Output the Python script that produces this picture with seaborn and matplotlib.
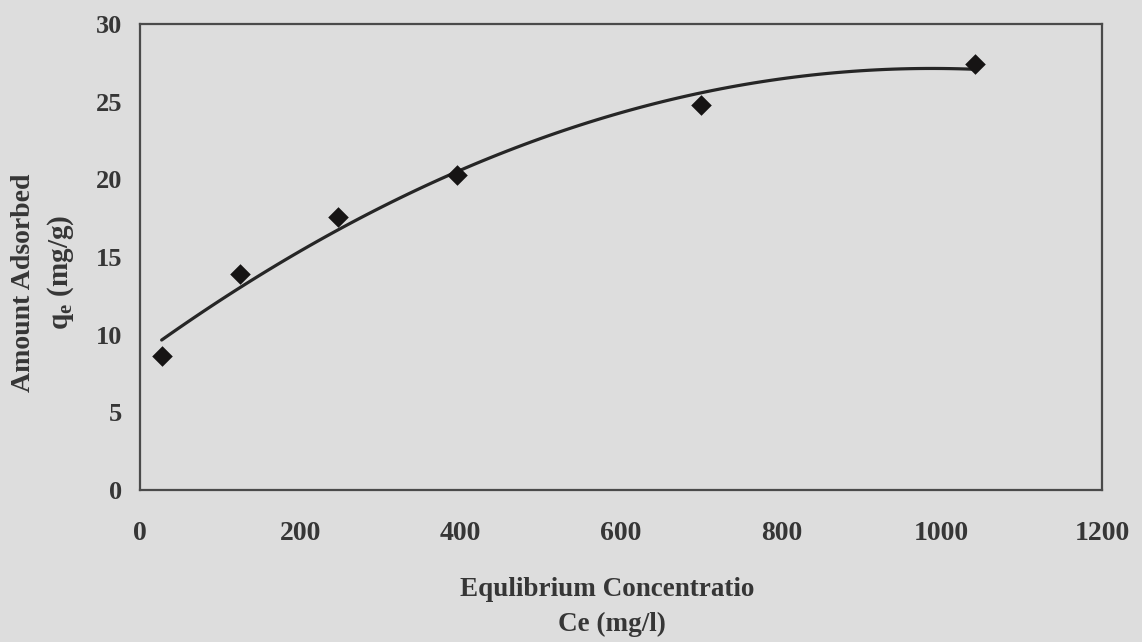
import numpy as np
import pandas as pd
import matplotlib
matplotlib.use("Agg")
import matplotlib.pyplot as plt
import seaborn as sns

# Equilibrium concentration (mg/l) and amount adsorbed (mg/g)
ce_values = [27, 125, 247, 396, 700, 1042]
qe_values = [8.6, 13.9, 17.6, 20.3, 24.8, 27.4]

x_ticks = [0, 200, 400, 600, 800, 1000, 1200]
y_ticks = [0, 5, 10, 15, 20, 25, 30]

df = pd.DataFrame({"Ce": ce_values, "qe": qe_values})

sns.set_style("white")
plt.rcParams["font.family"] = ["Liberation Serif", "DejaVu Serif"]

bg = "#dddddd"
ink = "#363636"

fig = plt.figure(figsize=(11.42, 6.42), dpi=100, facecolor=bg)
ax = fig.add_axes([140 / 1142, 1 - 490 / 642, 962 / 1142, (490 - 24) / 642])
ax.set_facecolor(bg)

# measurements as diamonds with a second-order polynomial trend line
sns.regplot(
    data=df, x="Ce", y="qe", order=2, ci=None, ax=ax, marker="D",
    scatter_kws={"s": 110, "color": "#161414", "alpha": 1.0, "linewidths": 0, "zorder": 3},
    line_kws={"color": "#262626", "linewidth": 2.3, "zorder": 2},
)

ax.set_xlim(0, 1200)
ax.set_ylim(0, 30)
ax.set_xticks(x_ticks)
ax.set_yticks(y_ticks)
ax.set_xticklabels([str(v) for v in x_ticks], fontsize=20, fontweight="bold", color=ink)
ax.set_yticklabels([str(v) for v in y_ticks], fontsize=19, fontweight="bold", color=ink)
ax.tick_params(axis="x", direction="out", length=6, width=1.2, color="#555555", pad=16)
ax.tick_params(axis="y", direction="out", length=4, width=1.2, color="#555555", pad=9)
ax.set_xlabel("")
ax.set_ylabel("")

for side in ["left", "right", "top", "bottom"]:
    ax.spines[side].set_visible(True)
    ax.spines[side].set_color("#4a4a4a")
    ax.spines[side].set_linewidth(1.6)

# axis titles
fig.text(607 / 1142, 1 - 590 / 642, "Equlibrium Concentratio", ha="center", va="center",
         fontsize=19.5, fontweight="bold", color=ink)
fig.text(612 / 1142, 1 - 624 / 642, "Ce (mg/l)", ha="center", va="center",
         fontsize=19.5, fontweight="bold", color=ink)
fig.text(24 / 1142, 1 - 283 / 642, "Amount Adsorbed", ha="center", va="center",
         rotation=90, fontsize=20, fontweight="bold", color=ink)
fig.text(61 / 1142, 1 - 272 / 642, r"q$_\mathregular{e}$ (mg/g)", ha="center", va="center",
         rotation=90, fontsize=21, fontweight="bold", color=ink)

fig.savefig("out.png", dpi=100, facecolor=bg)
